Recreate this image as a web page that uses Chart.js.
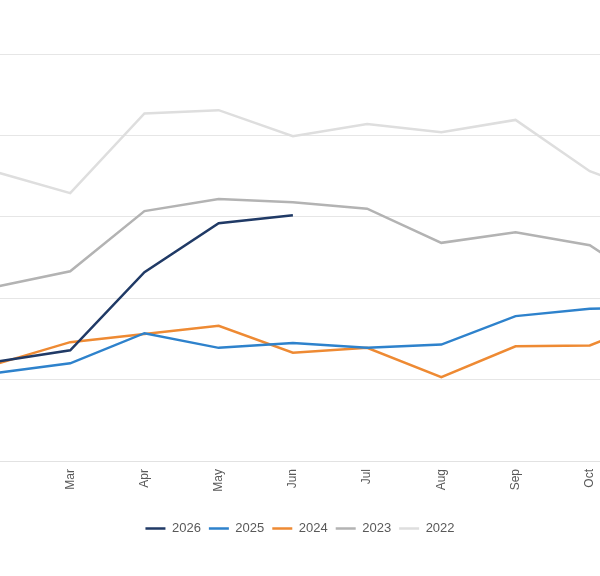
<!DOCTYPE html>
<html>
<head>
<meta charset="utf-8">
<script src="https://cdn.jsdelivr.net/npm/chart.js@4"></script>
<style>
    html, body { margin: 0; padding: 0; background: #fff; overflow: hidden; }
    #wrap { position: absolute; left: -100px; top: 0; width: 800px; height: 576px; }
</style>
</head>
<body>
<div id="wrap"><canvas id="yearChart"></canvas></div>
<script>
// Months shown (the left and right ends are cut off in the picture)
const months = ['Feb', 'Mar', 'Apr', 'May', 'Jun', 'Jul', 'Aug', 'Sep', 'Oct', 'Nov'];

const values2026 = [12.2, 13.6, 23.2, 29.2, 30.2];
const values2025 = [10.8, 12.0, 15.7, 13.9, 14.5, 13.9, 14.3, 17.8, 18.7, 18.9];
const values2024 = [11.9, 14.6, 15.6, 16.6, 13.3, 13.9, 10.3, 14.1, 14.2, 17.8];
const values2023 = [21.4, 23.3, 30.7, 32.2, 31.8, 31.0, 26.8, 28.1, 26.5, 20.5];
const values2022 = [35.5, 32.9, 42.7, 43.1, 39.9, 41.4, 40.4, 41.9, 35.6, 32.2];

const yMin = 0;
const yMax = 50;
const yStep = 10;

function series(label, data, color) {
    return {
        label: label,
        data: data,
        borderColor: color,
        backgroundColor: color,
        borderWidth: 2.5,
        pointRadius: 0,
        pointHoverRadius: 0,
        tension: 0,
        fill: false
    };
}

const ctx = document.getElementById('yearChart').getContext('2d');
new Chart(ctx, {
    type: 'line',
    data: {
        labels: months,
        datasets: [
            series('2026', values2026, '#203a66'),
            series('2025', values2025, '#2e82cc'),
            series('2024', values2024, '#ee8a33'),
            series('2023', values2023, '#b3b3b3'),
            series('2022', values2022, '#dedede')
        ]
    },
    options: {
        responsive: true,
        maintainAspectRatio: false,
        animation: false,
        layout: {
            padding: { left: 36, right: 36, top: 54, bottom: 31 }
        },
        plugins: {
            tooltip: { enabled: false },
            legend: {
                position: 'bottom',
                labels: {
                    usePointStyle: true,
                    pointStyle: 'line',
                    pointStyleWidth: 20,
                    padding: 8,
                    color: '#595959',
                    font: { family: 'Liberation Sans, Arial, sans-serif', size: 13 }
                }
            }
        },
        scales: {
            x: {
                grid: { display: false, drawTicks: false },
                border: { display: true, color: '#e2e2e2' },
                ticks: {
                    color: '#595959',
                    minRotation: 90,
                    maxRotation: 90,
                    padding: 8,
                    font: { family: 'Liberation Sans, Arial, sans-serif', size: 12 }
                },
                afterFit: scale => { scale.height = 53; }
            },
            y: {
                min: yMin,
                max: yMax,
                grid: { color: '#e6e6e6', drawTicks: false },
                border: { display: false },
                ticks: { display: false, stepSize: yStep },
                afterFit: scale => { scale.width = 60; }
            }
        }
    }
});
</script>
</body>
</html>
